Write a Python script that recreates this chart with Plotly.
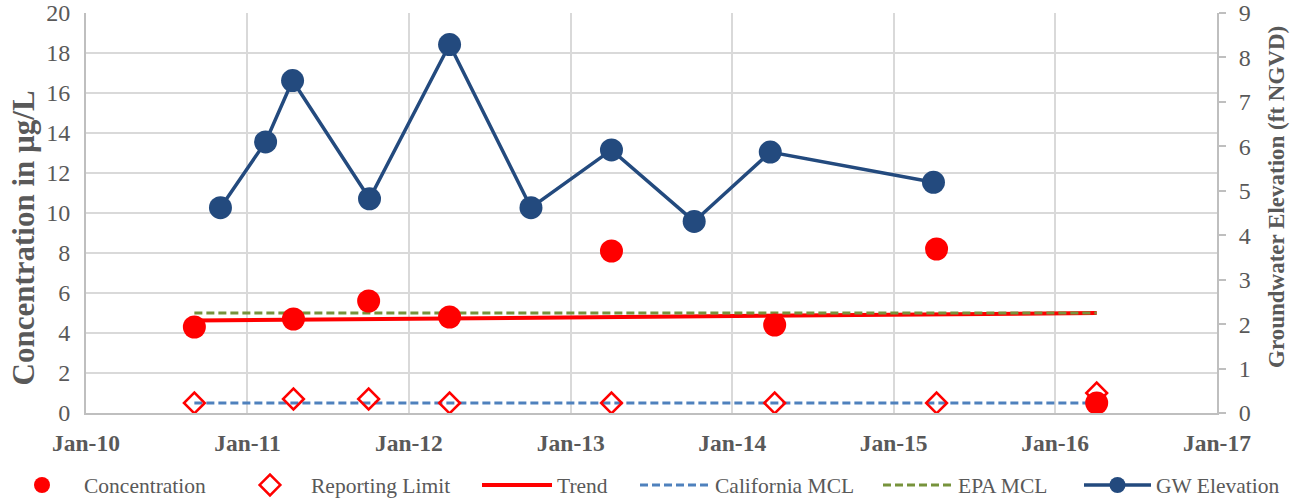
import plotly.graph_objects as go

# Sampling results (µg/L)
conc_dates = ["2010-09-03", "2011-04-15", "2011-10-02", "2012-04-02",
              "2013-04-03", "2014-04-07", "2015-04-08", "2016-04-04"]
conc_values = [4.3, 4.7, 5.6, 4.8, 8.1, 4.4, 8.2, 0.5]
reporting_limits = [0.5, 0.7, 0.7, 0.5, 0.5, 0.5, 0.5, 1.0]

# Linear trend end points
trend_dates = ["2010-09-03", "2016-04-04"]
trend_values = [4.62, 5.0]

# Regulatory limits
mcl_dates = ["2010-09-03", "2016-04-04"]
california_mcl = [0.5, 0.5]
epa_mcl = [5.0, 5.0]

# Groundwater elevation (ft NGVD)
gw_dates = ["2010-11-01", "2011-02-11", "2011-04-13", "2011-10-04", "2012-04-02",
            "2012-10-03", "2013-04-03", "2013-10-07", "2014-03-28", "2015-04-01"]
gw_values = [4.62, 6.10, 7.48, 4.82, 8.29, 4.62, 5.92, 4.31, 5.87, 5.19]

year_ticks = ["2010-01-01", "2011-01-01", "2012-01-01", "2013-01-01",
              "2014-01-01", "2015-01-01", "2016-01-01", "2017-01-01"]
year_labels = ["Jan-10", "Jan-11", "Jan-12", "Jan-13",
               "Jan-14", "Jan-15", "Jan-16", "Jan-17"]

FONT = "Liberation Serif"
GRAY = "#595959"
RED = "#FF0000"
NAVY = "#234A7E"

fig = go.Figure()

fig.add_trace(go.Scatter(
    x=trend_dates, y=trend_values, mode="lines", name="Trend",
    line=dict(color=RED, width=4), legend="legend3"))
fig.add_trace(go.Scatter(
    x=mcl_dates, y=california_mcl, mode="lines", name="California MCL",
    line=dict(color="#4F81BD", width=3, dash="8px,4px"), legend="legend4"))
fig.add_trace(go.Scatter(
    x=mcl_dates, y=epa_mcl, mode="lines", name="EPA MCL",
    line=dict(color="#77933C", width=3, dash="8px,4px"), legend="legend5"))
fig.add_trace(go.Scatter(
    x=conc_dates, y=reporting_limits, mode="markers", name="Reporting Limit",
    marker=dict(symbol="diamond-open", size=16, color=RED, line=dict(width=2.5, color=RED)),
    legend="legend2"))
fig.add_trace(go.Scatter(
    x=conc_dates, y=conc_values, mode="markers", name="Concentration",
    marker=dict(symbol="circle", size=23, color=RED), legend="legend"))
fig.add_trace(go.Scatter(
    x=gw_dates, y=gw_values, mode="lines+markers", name="GW Elevation",
    line=dict(color=NAVY, width=3.5),
    marker=dict(symbol="circle", size=23, color=NAVY),
    yaxis="y2", legend="legend6"))

L, R, T, B = 86, 79, 13, 85
W, H = 1296, 498

legend_common = dict(orientation="h", yref="container", yanchor="middle",
                     y=(H - 485) / H, xref="container", xanchor="left",
                     bgcolor="rgba(0,0,0,0)", font=dict(family=FONT, size=21.5, color=GRAY),
                     itemclick=False, itemdoubleclick=False)

# left edge (px) and symbol-column width of each legend entry
legend_slots = {"legend": (0, 74), "legend2": (229, 72), "legend3": (477, 70),
                "legend4": (635, 70), "legend5": (878, 70), "legend6": (1079, 67)}
layout_legends = {}
for name, (start, iw) in legend_slots.items():
    layout_legends[name] = dict(legend_common, x=start / W, itemwidth=iw)

fig.update_layout(
    width=W, height=H,
    margin=dict(l=L, r=R, t=T, b=B, autoexpand=False),
    paper_bgcolor="white", plot_bgcolor="white",
    font=dict(family=FONT, color=GRAY),
    showlegend=True,
    xaxis=dict(
        type="date", range=["2010-01-01", "2017-01-01"],
        tickvals=year_ticks, ticktext=year_labels,
        tickfont=dict(family=FONT, size=23.5, color=GRAY, weight="bold"),
        showgrid=True, gridcolor="#D9D9D9", gridwidth=2,
        showline=True, linecolor="#BFBFBF", linewidth=2,
        ticks="", ticklabelstandoff=8, zeroline=False),
    yaxis=dict(
        range=[0, 20], dtick=2, tickfont=dict(family=FONT, size=24, color=GRAY),
        showgrid=True, gridcolor="#D9D9D9", gridwidth=2,
        showline=True, linecolor="#BFBFBF", linewidth=2,
        ticks="", ticklabelstandoff=9, zeroline=False),
    yaxis2=dict(
        range=[0, 9], dtick=1, overlaying="y", side="right",
        tickfont=dict(family=FONT, size=24, color=GRAY),
        showgrid=False, showline=True, linecolor="#BFBFBF", linewidth=2,
        ticks="outside", ticklen=7, tickcolor="#BFBFBF", tickwidth=1.5,
        ticklabelstandoff=8, zeroline=False),
    annotations=[
        dict(text="<b>Concentration in µg/L</b>", textangle=-90,
             xref="paper", yref="paper", x=(22.5 - L) / (W - L - R), y=(H - B - 238) / (H - T - B),
             xanchor="center", yanchor="middle", showarrow=False,
             font=dict(family=FONT, size=31, color=GRAY)),
        dict(text="<b>Groundwater Elevation (ft NGVD)</b>", textangle=-90,
             xref="paper", yref="paper", x=(1276 - L) / (W - L - R), y=(H - B - 197) / (H - T - B),
             xanchor="center", yanchor="middle", showarrow=False,
             font=dict(family=FONT, size=23, color=GRAY)),
    ],
    **layout_legends,
)

fig.write_html("out.html")
